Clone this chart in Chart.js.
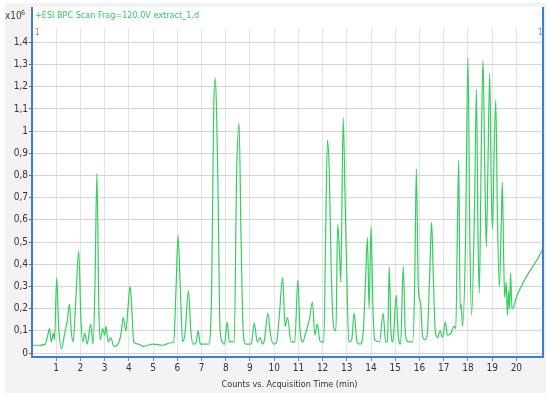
<!DOCTYPE html>
<html>
<head>
<meta charset="utf-8">
<script src="https://cdn.jsdelivr.net/npm/chart.js@4/dist/chart.umd.min.js"></script>
<style>
  html, body { margin: 0; padding: 0; background: #fff; }
  #wrap { width: 550px; height: 401px; position: relative; }
</style>
</head>
<body>
<div id="wrap"><canvas id="chart" width="550" height="401"></canvas></div>
<script>
// retention time (min) and counts (x10^6)
const times = [0.0, 0.3, 0.55, 0.65, 0.72, 0.8, 0.88, 0.93, 1.02, 1.1, 1.22, 1.35, 1.45, 1.55, 1.62, 1.7, 1.8, 1.93, 2.02, 2.1,
  2.18, 2.28, 2.42, 2.52, 2.6, 2.68, 2.76, 2.82, 2.92, 3.0, 3.05, 3.15, 3.25, 3.38, 3.55, 3.68, 3.76, 3.88, 3.96, 4.05,
  4.12, 4.2, 4.4, 4.6, 5.0, 5.4, 5.7, 5.85, 5.95, 6.03, 6.12, 6.22, 6.32, 6.46, 6.56, 6.65, 6.78, 6.86, 6.95, 7.3,
  7.42, 7.5, 7.56, 7.62, 7.68, 7.76, 7.85, 7.95, 8.06, 8.15, 8.35, 8.45, 8.55, 8.63, 8.72, 8.82, 9.05, 9.18, 9.3, 9.42,
  9.52, 9.6, 9.74, 9.85, 9.98, 10.1, 10.2, 10.35, 10.45, 10.55, 10.7, 10.85, 10.98, 11.07, 11.18, 11.3, 11.45, 11.58, 11.68, 11.78,
  11.9, 12.05, 12.12, 12.2, 12.28, 12.35, 12.45, 12.55, 12.62, 12.7, 12.75, 12.85, 12.93, 13.0, 13.08, 13.2, 13.3, 13.42, 13.55, 13.68,
  13.78, 13.85, 13.92, 14.0, 14.08, 14.15, 14.35, 14.5, 14.6, 14.68, 14.75, 14.82, 14.9, 15.04, 15.12, 15.22, 15.33, 15.42, 15.55, 15.72,
  15.8, 15.87, 15.95, 16.05, 16.12, 16.22, 16.32, 16.42, 16.5, 16.57, 16.65, 16.75, 16.85, 16.95, 17.07, 17.15, 17.3, 17.42, 17.5, 17.57,
  17.62, 17.68, 17.72, 17.78, 17.9, 18.0, 18.08, 18.15, 18.28, 18.35, 18.42, 18.47, 18.55, 18.62, 18.7, 18.76, 18.82, 18.9, 18.97, 19.02,
  19.08, 19.15, 19.22, 19.3, 19.38, 19.42, 19.48, 19.52, 19.58, 19.63, 19.68, 19.72, 19.76, 19.82, 19.9, 20.0, 20.2, 20.5, 20.8, 21.1];
const counts = [0.035, 0.035, 0.04, 0.08, 0.11, 0.05, 0.09, 0.06, 0.34, 0.12, 0.02, 0.09, 0.14, 0.22, 0.1, 0.05, 0.22, 0.46, 0.15, 0.05,
  0.09, 0.04, 0.13, 0.04, 0.3, 0.81, 0.2, 0.06, 0.11, 0.08, 0.12, 0.05, 0.07, 0.03, 0.04, 0.09, 0.16, 0.1, 0.2, 0.3,
  0.2, 0.05, 0.04, 0.03, 0.04, 0.035, 0.045, 0.05, 0.3, 0.53, 0.3, 0.05, 0.09, 0.28, 0.1, 0.04, 0.05, 0.1, 0.04, 0.04,
  0.3, 1.08, 1.24, 1.1, 0.75, 0.12, 0.05, 0.04, 0.14, 0.05, 0.05, 0.81, 1.035, 0.53, 0.1, 0.04, 0.04, 0.135, 0.05, 0.07,
  0.04, 0.06, 0.18, 0.08, 0.04, 0.05, 0.15, 0.34, 0.12, 0.16, 0.05, 0.05, 0.33, 0.1, 0.05, 0.09, 0.15, 0.23, 0.08, 0.13,
  0.05, 0.05, 0.5, 0.96, 0.8, 0.4, 0.12, 0.1, 0.58, 0.45, 0.32, 1.06, 0.68, 0.35, 0.05, 0.06, 0.18, 0.05, 0.04, 0.1,
  0.35, 0.52, 0.2, 0.57, 0.2, 0.06, 0.05, 0.18, 0.05, 0.05, 0.39, 0.1, 0.05, 0.26, 0.08, 0.04, 0.39, 0.08, 0.05, 0.05,
  0.3, 0.83, 0.3, 0.22, 0.08, 0.06, 0.08, 0.35, 0.59, 0.35, 0.1, 0.07, 0.1, 0.07, 0.14, 0.08, 0.09, 0.12, 0.11, 0.6,
  0.87, 0.2, 0.22, 0.12, 0.5, 1.33, 0.5, 0.17, 0.7, 1.19, 0.5, 0.27, 0.9, 1.32, 0.8, 0.48, 0.8, 1.26, 0.7, 0.56,
  0.9, 1.14, 0.6, 0.3, 0.6, 0.77, 0.4, 0.25, 0.32, 0.17, 0.28, 0.2, 0.36, 0.2, 0.21, 0.25, 0.3, 0.36, 0.41, 0.47];

const xTicks = [1, 2, 3, 4, 5, 6, 7, 8, 9, 10, 11, 12, 13, 14, 15, 16, 17, 18, 19, 20];
const titleText = '+ESI BPC Scan Frag=120.0V extract_1.d';

const narrow = "'Liberation Sans Narrow', 'DejaVu Sans Condensed', sans-serif";

const points = times.map((t, i) => ({ x: t, y: counts[i] }));

const frame = {
  id: 'frame',
  beforeDraw(chart) {
    const { ctx, chartArea: a } = chart;
    ctx.save();
    ctx.fillStyle = '#f3f3f3';
    ctx.fillRect(5, 3, 541, 390);
    ctx.fillStyle = '#ffffff';
    ctx.fillRect(a.left, 7, a.right - a.left, a.bottom - 7);
    ctx.restore();
  },
  afterDraw(chart) {
    const { ctx, chartArea: a } = chart;
    ctx.save();
    ctx.strokeStyle = '#3d7fd6';
    ctx.lineWidth = 2;
    ctx.beginPath();
    ctx.moveTo(a.left, 7);
    ctx.lineTo(a.left, a.bottom);
    ctx.lineTo(a.right, a.bottom);
    ctx.lineTo(a.right, 7);
    ctx.stroke();

    ctx.font = '10px ' + narrow;
    ctx.textBaseline = 'middle';
    ctx.fillStyle = '#444';
    ctx.fillText('x10', 5, 16);
    ctx.font = '7px ' + narrow;
    ctx.fillText('6', 21, 13);
    ctx.font = '9px ' + narrow;
    ctx.fillStyle = '#2ecc5a';
    ctx.fillText(titleText, a.left + 3, 16);
    ctx.fillStyle = '#888';
    ctx.font = '8px ' + narrow;
    ctx.fillText('1', a.left + 3, 33);
    ctx.fillText('1', a.right - 5, 33);
    ctx.fillStyle = '#333';
    ctx.font = '9px ' + narrow;
    ctx.textAlign = 'center';
    ctx.fillText('Counts vs. Acquisition Time (min)', (a.left + a.right) / 2 + 2, 385);
    ctx.restore();
  }
};

new Chart(document.getElementById('chart'), {
  type: 'line',
  data: {
    datasets: [{
      data: points,
      borderColor: 'rgb(52, 206, 96)',
      borderWidth: 1.2,
      pointRadius: 0,
      fill: false,
      cubicInterpolationMode: 'monotone'
    }]
  },
  options: {
    responsive: false,
    animation: false,
    layout: { padding: { top: 28, right: 7, left: 0, bottom: 0 } },
    plugins: { legend: { display: false }, tooltip: { enabled: false } },
    scales: {
      x: {
        type: 'linear',
        min: 0,
        max: 21.1,
        afterFit(scale) { scale.height = 44; },
        afterBuildTicks(scale) { scale.ticks = xTicks.map(v => ({ value: v })); },
        grid: { color: '#e4e4e4', drawTicks: true, tickLength: 4, tickColor: '#888' },
        border: { display: false },
        ticks: {
          maxRotation: 0,
          autoSkip: false,
          padding: 1,
          color: '#333',
          font: { family: narrow, size: 10 }
        }
      },
      y: {
        min: -0.018,
        max: 1.465,
        afterFit(scale) { scale.width = 32; },
        afterBuildTicks(scale) {
          const t = [];
          for (let i = 0; i <= 14; i++) t.push({ value: i / 10 });
          scale.ticks = t;
        },
        grid: { color: '#d4d4d4', drawTicks: true, tickLength: 3, tickColor: '#666' },
        border: { display: false },
        ticks: {
          padding: 1,
          color: '#333',
          font: { family: narrow, size: 10 },
          callback: v => {
            const r = Math.round(v * 10) / 10;
            return Number.isInteger(r) ? String(r) : r.toFixed(1).replace('.', ',');
          }
        }
      }
    }
  },
  plugins: [frame]
});
</script>
</body>
</html>
